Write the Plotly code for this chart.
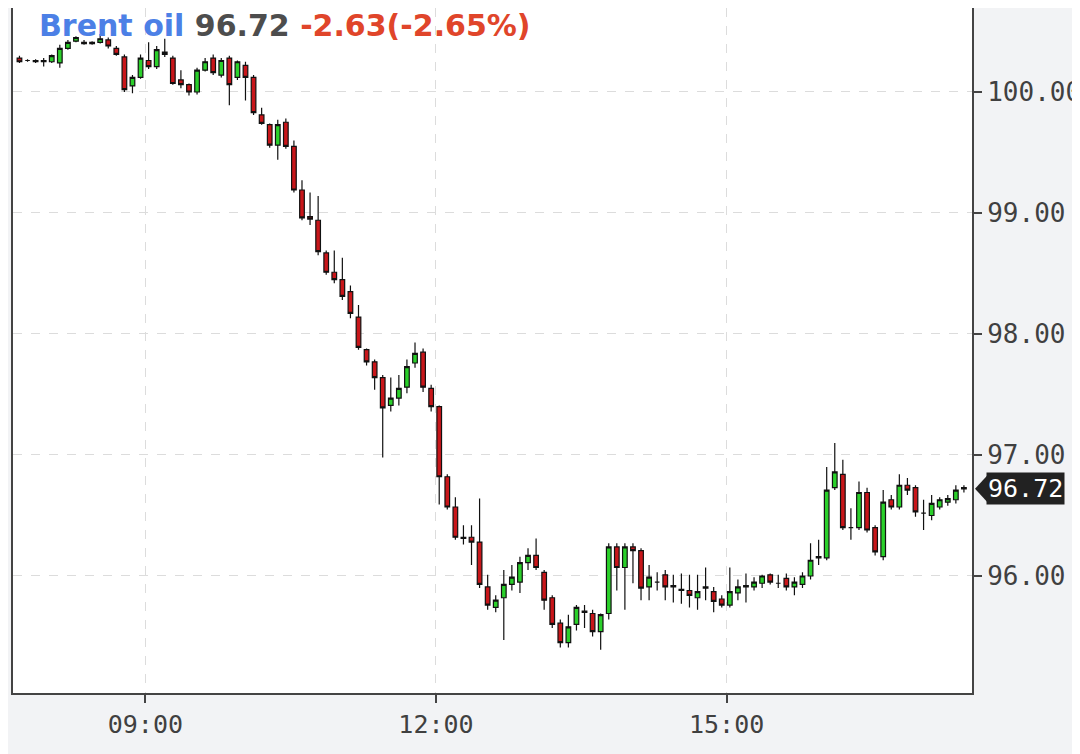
import pandas as pd
import plotly.graph_objects as go

# ---- data (5-minute candles, Brent oil) ----
start_time = "2024-01-01 07:42"
n_candles = 118
times = pd.date_range(start_time, periods=n_candles, freq="5min")

open_ = [100.28, 100.26, 100.26, 100.26, 100.25, 100.24, 100.36, 100.42, 100.41, 100.41,
         100.41, 100.43, 100.36, 100.29, 100.05, 100.12, 100.26, 100.21, 100.33, 100.28,
         100.10, 100.06, 100.00, 100.18, 100.28, 100.14, 100.28, 100.12, 100.22, 100.12,
         99.81, 99.73, 99.56, 99.75, 99.55, 99.19, 98.97, 98.94, 98.67, 98.51,
         98.45, 98.35, 98.14, 97.87, 97.77, 97.64, 97.41, 97.47, 97.56, 97.76,
         97.85, 97.55, 97.40, 96.82, 96.57, 96.32, 96.32, 96.28, 95.91, 95.74,
         95.82, 95.93, 95.95, 96.11, 96.17, 96.03, 95.82, 95.61, 95.45, 95.60,
         95.70, 95.69, 95.54, 95.69, 96.24, 96.07, 96.24, 96.21, 95.91, 95.95,
         96.01, 95.92, 95.89, 95.88, 95.82, 95.90, 95.87, 95.81, 95.76, 95.86,
         95.91, 95.91, 95.94, 96.01, 95.94, 95.98, 95.91, 95.93, 96.00, 96.15,
         96.15, 96.73, 96.84, 96.40, 96.40, 96.69, 96.40, 96.16, 96.63, 96.57,
         96.75, 96.73, 96.52, 96.50, 96.57, 96.61, 96.63, 96.73]

high = [100.30, 100.27, 100.27, 100.28, 100.31, 100.39, 100.43, 100.46, 100.43, 100.42,
        100.48, 100.45, 100.38, 100.31, 100.14, 100.31, 100.41, 100.38, 100.44, 100.30,
        100.18, 100.07, 100.20, 100.28, 100.31, 100.28, 100.30, 100.26, 100.25, 100.14,
        99.87, 99.74, 99.77, 99.78, 99.60, 99.27, 99.17, 99.14, 98.69, 98.69,
        98.63, 98.40, 98.24, 97.88, 97.79, 97.66, 97.64, 97.66, 97.79, 97.93,
        97.88, 97.58, 97.41, 96.84, 96.65, 96.42, 96.42, 96.64, 96.01, 95.84,
        96.05, 96.09, 96.16, 96.23, 96.31, 96.05, 95.84, 95.64, 95.68, 95.76,
        95.76, 95.72, 95.69, 96.27, 96.27, 96.27, 96.27, 96.23, 96.09, 96.03,
        96.05, 96.01, 96.02, 96.01, 96.01, 96.07, 95.91, 95.84, 96.07, 95.97,
        96.02, 95.99, 96.01, 96.02, 96.01, 96.02, 95.99, 96.03, 96.27, 96.30,
        96.90, 97.10, 96.96, 96.56, 96.78, 96.73, 96.42, 96.71, 96.67, 96.84,
        96.81, 96.75, 96.63, 96.67, 96.65, 96.67, 96.75, 96.75]

low = [100.24, 100.25, 100.24, 100.21, 100.24, 100.20, 100.35, 100.41, 100.39, 100.39,
       100.40, 100.36, 100.30, 100.00, 99.99, 100.11, 100.19, 100.19, 100.29, 100.06,
       100.03, 99.97, 99.98, 100.17, 100.14, 100.12, 99.89, 100.10, 99.93, 99.81,
       99.73, 99.54, 99.44, 99.53, 99.17, 98.94, 98.90, 98.65, 98.49, 98.42,
       98.28, 98.13, 97.87, 97.74, 97.54, 96.98, 97.36, 97.41, 97.51, 97.72,
       97.52, 97.36, 96.59, 96.55, 96.30, 96.26, 96.09, 95.90, 95.72, 95.70,
       95.47, 95.88, 95.86, 96.05, 96.05, 95.72, 95.57, 95.41, 95.41, 95.55,
       95.57, 95.50, 95.39, 95.64, 95.88, 95.72, 95.94, 95.80, 95.80, 95.88,
       95.80, 95.78, 95.77, 95.74, 95.72, 95.80, 95.70, 95.74, 95.74, 95.80,
       95.78, 95.88, 95.90, 95.93, 95.90, 95.88, 95.84, 95.90, 95.97, 96.09,
       96.13, 96.71, 96.38, 96.30, 96.38, 96.36, 96.17, 96.13, 96.55, 96.55,
       96.67, 96.49, 96.38, 96.46, 96.55, 96.58, 96.60, 96.69]

close = [100.25, 100.26, 100.25, 100.25, 100.30, 100.36, 100.41, 100.45, 100.40, 100.40,
         100.44, 100.38, 100.31, 100.02, 100.12, 100.28, 100.21, 100.35, 100.31, 100.07,
         100.06, 100.00, 100.18, 100.25, 100.16, 100.26, 100.06, 100.25, 100.12, 99.83,
         99.74, 99.56, 99.73, 99.55, 99.19, 98.96, 98.95, 98.68, 98.51, 98.45,
         98.31, 98.17, 97.89, 97.77, 97.64, 97.39, 97.47, 97.55, 97.73, 97.84,
         97.56, 97.40, 96.82, 96.57, 96.32, 96.31, 96.28, 95.93, 95.76, 95.80,
         95.93, 95.99, 96.11, 96.17, 96.07, 95.80, 95.60, 95.45, 95.58, 95.74,
         95.71, 95.54, 95.68, 96.24, 96.07, 96.24, 96.21, 95.90, 95.99, 95.95,
         95.91, 95.91, 95.88, 95.84, 95.87, 95.91, 95.79, 95.76, 95.87, 95.91,
         95.92, 95.95, 96.00, 95.95, 95.94, 95.91, 95.95, 96.00, 96.13, 96.16,
         96.71, 96.86, 96.40, 96.40, 96.69, 96.38, 96.20, 96.61, 96.57, 96.75,
         96.71, 96.53, 96.52, 96.60, 96.63, 96.64, 96.71, 96.72]

instrument = "Brent oil"
last_price = "96.72"
change_text = "-2.63(-2.65%)"
last_value = 96.72

price_ticks = [96.0, 97.0, 98.0, 99.0, 100.0]
price_tick_labels = ["96.00", "97.00", "98.00", "99.00", "100.00"]
time_ticks = ["2024-01-01 09:00", "2024-01-01 12:00", "2024-01-01 15:00"]
time_tick_labels = ["09:00", "12:00", "15:00"]

y_range = [95.033, 100.694]
x_range = ["2024-01-01 07:38", "2024-01-01 17:32"]

# ---- figure ----
GREEN = "#2bd02b"
RED = "#c8161a"
MONO = "DejaVu Sans Mono"

fig = go.Figure()
fig.add_trace(go.Candlestick(
    x=times, open=open_, high=high, low=low, close=close,
    increasing=dict(line=dict(color="#111111", width=1.2), fillcolor=GREEN),
    decreasing=dict(line=dict(color="#111111", width=1.2), fillcolor=RED),
    whiskerwidth=0,
    hoverinfo="skip",
    showlegend=False,
))

fig.update_layout(
    width=1080, height=754,
    margin=dict(l=5, r=116, t=0, b=69),
    paper_bgcolor="#f2f3f5",
    plot_bgcolor="#ffffff",
    showlegend=False,
    boxgap=0.18,
    xaxis=dict(
        type="date",
        range=x_range,
        rangeslider=dict(visible=False),
        tickvals=time_ticks,
        ticktext=time_tick_labels,
        ticks="outside", ticklen=8, tickwidth=2, tickcolor="#444444",
        tickfont=dict(family=MONO, size=25, color="#404040"),
        showline=True, linecolor="#444444", linewidth=2,
        showgrid=True, gridcolor="#dcdcdc", griddash="dash", gridwidth=1,
        zeroline=False, fixedrange=True,
    ),
    yaxis=dict(
        side="right",
        range=y_range,
        tickvals=price_ticks,
        ticktext=price_tick_labels,
        ticks="outside", ticklen=8, tickwidth=2, tickcolor="#444444",
        tickfont=dict(family=MONO, size=26, color="#404040"),
        showline=True, linecolor="#444444", linewidth=2, mirror=True,
        showgrid=True, gridcolor="#dcdcdc", griddash="dash", gridwidth=1,
        zeroline=False, fixedrange=True,
    ),
)

# header
fig.add_annotation(
    xref="paper", yref="paper", x=0.027, y=1.0, xanchor="left", yanchor="top",
    yshift=0, showarrow=False, borderpad=0, borderwidth=0,
    text=(f"<b><span style='color:#4c80e6'>{instrument}</span> "
          f"<span style='color:#4d4d4d'>{last_price}</span> "
          f"<span style='color:#e0452a'>{change_text}</span></b>"),
    font=dict(family="DejaVu Sans", size=30),
)

# last price label with pointer
fig.add_annotation(
    xref="paper", yref="y", x=1.0, y=last_value, xanchor="left", yanchor="middle",
    xshift=14, showarrow=False, text=last_price,
    font=dict(family=MONO, size=25, color="#ffffff"),
    bgcolor="#222222", borderpad=1,
)
fig.add_shape(
    type="path", xref="paper", yref="y",
    xsizemode="pixel", ysizemode="pixel", xanchor=1.0, yanchor=last_value,
    path="M 3 0 L 15 13 L 15 -13 Z",
    fillcolor="#222222", line=dict(width=0), layer="above",
)

fig.write_html("out.html")
